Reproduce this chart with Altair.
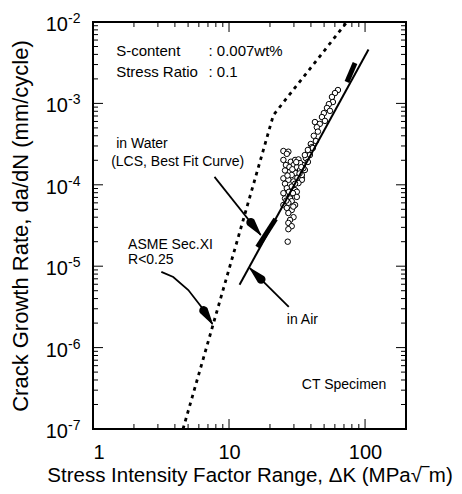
import altair as alt
import numpy as np
import pandas as pd

# ---------------- data ----------------
# scatter: in-water test data (Delta K [MPa sqrt m], da/dN [mm/cycle])
DK = [63.2, 60.1, 57.1, 58.0, 54.2, 52.5, 55.2, 49.8, 48.2, 50.7, 42.8, 46.5, 44.2,
      45.0, 42.0, 43.5, 39.9, 40.6, 41.3, 38.0, 39.3, 36.7, 38.0, 34.9, 36.1, 34.3,
      36.1, 35.2, 34.3,
      25.1, 27.3, 26.6, 25.1, 28.5, 30.6, 32.4, 33.3, 29.8, 31.5, 25.8, 28.1, 30.6,
      33.3, 34.3, 28.9, 25.1, 27.3, 29.8, 32.4, 25.8, 30.6, 28.9, 26.6, 30.6, 31.5,
      25.1, 28.1, 31.5, 25.8, 28.1, 28.9, 27.3, 25.1, 30.6, 26.6, 28.9, 27.3, 29.8,
      28.1, 27.3, 28.9, 27.3, 27.0,
      26.2, 27.8, 29.2, 26.9, 31.8, 27.6, 29.5, 26.4, 29.7, 31.2, 34.0, 33.0]
DADN = [1.46e-3, 1.34e-3, 1.20e-3, 1.04e-3, 9.8e-4, 8.8e-4, 8.1e-4, 7.6e-4, 6.8e-4,
        6.1e-4, 5.9e-4, 5.6e-4, 5.1e-4, 4.5e-4, 4.0e-4, 3.45e-4, 3.17e-4, 2.9e-4,
        2.83e-4, 2.68e-4, 2.32e-4, 2.13e-4, 1.91e-4, 1.75e-4, 1.52e-4, 1.21e-4,
        2.32e-4, 1.6e-4, 1.15e-4,
        2.6e-4, 2.55e-4, 2.4e-4, 2.02e-4, 1.92e-4, 2.02e-4, 2.05e-4, 1.85e-4, 1.75e-4,
        1.64e-4, 1.5e-4, 1.45e-4, 1.40e-4, 1.52e-4, 1.32e-4, 1.32e-4, 1.2e-4, 1.15e-4,
        1.1e-4, 1.05e-4, 1.03e-4, 1.03e-4, 9.5e-5, 9.1e-5, 8.6e-5, 8.2e-5, 7.9e-5,
        7.5e-5, 7.1e-5, 6.8e-5, 6.8e-5, 6.3e-5, 6.0e-5, 5.65e-5, 5.65e-5, 5.2e-5,
        4.9e-5, 4.5e-5, 4.0e-5, 3.7e-5, 3.4e-5, 3.1e-5, 2.85e-5, 2.0e-5,
        1.75e-4, 1.65e-4, 1.55e-4, 1.3e-4, 1.22e-4, 8.2e-5, 7.9e-5, 6.4e-5, 5.4e-5,
        1.9e-4, 1.65e-4, 1.38e-4]

# ASME Sec.XI reference curve (bilinear)
ASME_DK = [4.59, 21.2, 73.6]
ASME_DADN = [1.0e-7, 7.2e-4, 1.0e-2]

# in Air line
AIR_DK = [11.95, 106.0]
AIR_DADN = [5.9e-6, 4.6e-3]

# in Water best fit curve (two visible thick pieces)
WATER_SEG = [0, 0, 1, 1]
WATER_DK = [16.2, 22.0, 73.6, 84.4]
WATER_DADN = [1.72e-5, 3.8e-5, 1.83e-3, 3.13e-3]

# annotation arrows (data coordinates)
ARROW_ID = [0, 0, 1, 1, 1, 1, 1, 2, 2]
ARROW_ORD = [0, 1, 0, 1, 2, 3, 4, 0, 1]
ARROW_DK = [7.82, 17.1, 3.18, 3.89, 5.02, 6.27, 7.55, 27.5, 14.2]
ARROW_DADN = [1.25e-4, 2.42e-5, 8.5e-6, 7.36e-6, 5.1e-6, 3.16e-6, 1.95e-6, 3.16e-6, 9.5e-6]
HEAD_DK = [17.1, 7.55, 14.2]
HEAD_DADN = [2.42e-5, 1.95e-6, 9.5e-6]
HEAD_ANGLE = [141.6, 147.0, 315.0]   # screen direction of each arrow (deg, clockwise from up)

# annotation texts
TXT = ["S-content", ": 0.007wt%", "Stress Ratio", ": 0.1", "in Water",
       "(LCS, Best Fit Curve)", "ASME Sec.XI", "R<0.25", "in Air", "CT Specimen"]
TXT_DK = [1.48, 7.06, 1.48, 7.06, 1.48, 1.36, 1.81, 1.81, 26.6, 34.3]
TXT_DADN = [4.4e-3, 4.4e-3, 2.43e-3, 2.43e-3, 3.17e-4, 1.88e-4, 1.82e-5, 1.19e-5, 2.18e-6, 3.47e-7]
TXT_SIZE = [15, 15, 15, 15, 14, 14, 14, 14, 14, 14]

# axes
X_TICKS = [1, 10, 100]
X_MINOR = [2, 3, 4, 5, 6, 7, 8, 9, 20, 30, 40, 50, 60, 70, 80, 90]
Y_EXP = [-7, -6, -5, -4, -3, -2]
Y_MINOR_K = [2, 3, 4, 5, 6, 7, 8, 9]

W, H = 313, 407
FONT = "Liberation Sans"
XDOM, YDOM = [1, 200], [1e-7, 1e-2]

xs = alt.Scale(type="log", domain=XDOM, nice=False)
ys = alt.Scale(type="log", domain=YDOM, nice=False)

XAX = alt.Axis(values=X_TICKS, format="d", labelFontSize=20, labelFont=FONT,
               labelPadding=13, ticks=False, tickSize=0, domain=False, grid=False,
               labelColor="black",
               title="Stress Intensity Factor Range, \u0394K (MPa\u221a\u203em)",
               titleFont=FONT, titleFontSize=20.5, titleFontWeight="normal",
               titlePadding=3, titleColor="black")
YAX = alt.Axis(labels=False, ticks=False, tickSize=0, domain=False, grid=False,
               title="Crack  Growth  Rate,  da/dN  (mm/cycle)",
               titleFont=FONT, titleFontSize=22, titleFontWeight="normal",
               titlePadding=61, titleColor="black")

y_major = [10.0 ** e for e in Y_EXP]
y_minor = [k * 10.0 ** e for e in Y_EXP[:-1] for k in Y_MINOR_K]

# arrowhead wedges: tip + a base point 16 px back along the arrow direction
px_dec_x = W / (np.log10(XDOM[1]) - np.log10(XDOM[0]))
px_dec_y = H / (np.log10(YDOM[1]) - np.log10(YDOM[0]))
HL = 16.0
th = np.radians(HEAD_ANGLE)
base_dk = 10 ** (np.log10(HEAD_DK) - HL * np.sin(th) / px_dec_x)
base_r = 10 ** (np.log10(HEAD_DADN) - HL * np.cos(th) / px_dec_y)
df_hd = pd.DataFrame({
    "dk": list(HEAD_DK) + list(base_dk),
    "r": list(HEAD_DADN) + list(base_r),
    "id": [0, 1, 2, 0, 1, 2],
    "o": [1, 1, 1, 0, 0, 0],
    "w": [0.0, 0.0, 0.0, 9.0, 9.0, 9.0],
})

df_sc = pd.DataFrame({"dk": DK, "r": DADN})
df_asme = pd.DataFrame({"dk": ASME_DK, "r": ASME_DADN})
df_air = pd.DataFrame({"dk": AIR_DK, "r": AIR_DADN})
df_w = pd.DataFrame({"dk": WATER_DK, "r": WATER_DADN, "s": WATER_SEG})
df_ar = pd.DataFrame({"dk": ARROW_DK, "r": ARROW_DADN, "id": ARROW_ID, "o": ARROW_ORD})
df_tx = pd.DataFrame({"dk": TXT_DK, "r": TXT_DADN, "t": TXT, "fs": TXT_SIZE})
df_xmaj = pd.DataFrame({"v": X_TICKS})
df_xmin = pd.DataFrame({"v": X_MINOR})
df_ymaj = pd.DataFrame({"v": y_major, "e": [str(e) for e in Y_EXP]})
df_ymin = pd.DataFrame({"v": y_minor})

X = lambda f="dk": alt.X(f"{f}:Q", scale=xs, axis=XAX)
Y = lambda f="r": alt.Y(f"{f}:Q", scale=ys, axis=YAX)

asme = alt.Chart(df_asme).mark_line(color="black", strokeWidth=2.8, strokeDash=[3.5, 4.5],
                                    clip=True).encode(x=X(), y=Y())
scatter = alt.Chart(df_sc).mark_point(shape="circle", filled=False, fill="white",
                                      fillOpacity=1, stroke="black", strokeWidth=1,
                                      size=30, opacity=1).encode(x=X(), y=Y())
air = alt.Chart(df_air).mark_line(color="black", strokeWidth=2).encode(x=X(), y=Y())
water = alt.Chart(df_w).mark_line(color="black", strokeWidth=5, strokeCap="butt").encode(
    x=X(), y=Y(), detail="s:N")
arrows = alt.Chart(df_ar).mark_line(color="black", strokeWidth=1.8, strokeCap="butt").encode(
    x=X(), y=Y(), detail="id:N", order="o:Q")
heads = alt.Chart(df_hd).mark_trail(color="black", opacity=1).encode(
    x=X(), y=Y(), detail="id:N", order="o:Q",
    size=alt.Size("w:Q", scale=None, legend=None))
texts = alt.Chart(df_tx).mark_text(align="left", baseline="middle", font=FONT,
                                   color="black").encode(
    x=X(), y=Y(), text="t:N", size=alt.Size("fs:Q", scale=None, legend=None))

# y labels 10^e
ylab = alt.Chart(df_ymaj).mark_text(align="right", baseline="middle", font=FONT, fontSize=20,
                                    dy=3, color="black", text="10").encode(
    x=alt.value(-25), y=Y("v"))
yexp = alt.Chart(df_ymaj).mark_text(align="left", baseline="middle", font=FONT, fontSize=14,
                                    dy=-3, color="black").encode(
    x=alt.value(-25), y=Y("v"), text="e:N")

# inward ticks on all four sides
def yt(df, L):
    l = alt.Chart(df).mark_rule(color="black", strokeWidth=1).encode(
        y=Y("v"), x=alt.value(0), x2=alt.value(L))
    r = alt.Chart(df).mark_rule(color="black", strokeWidth=1).encode(
        y=Y("v"), x=alt.value(W), x2=alt.value(W - L))
    return [l, r]

def xt(df, L):
    b = alt.Chart(df).mark_rule(color="black", strokeWidth=1).encode(
        x=X("v"), y=alt.value(H), y2=alt.value(H - L))
    t = alt.Chart(df).mark_rule(color="black", strokeWidth=1).encode(
        x=X("v"), y=alt.value(0), y2=alt.value(L))
    return [b, t]

layers = [asme, scatter, air, water, arrows, heads, texts, ylab, yexp]
layers += yt(df_ymaj, 10) + yt(df_ymin, 5) + xt(df_xmaj, 10) + xt(df_xmin, 5)

chart = alt.layer(*layers).resolve_scale(size="independent").properties(
    width=W, height=H,
    autosize=alt.AutoSizeParams(type="none"),
    padding={"left": 85, "top": 14, "right": 48, "bottom": 57},
).configure(
    font=FONT, background="white",
    view=alt.ViewConfig(stroke="black", strokeWidth=2),
)

chart.save("out.html", embed_options={"renderer": "svg", "actions": False})
